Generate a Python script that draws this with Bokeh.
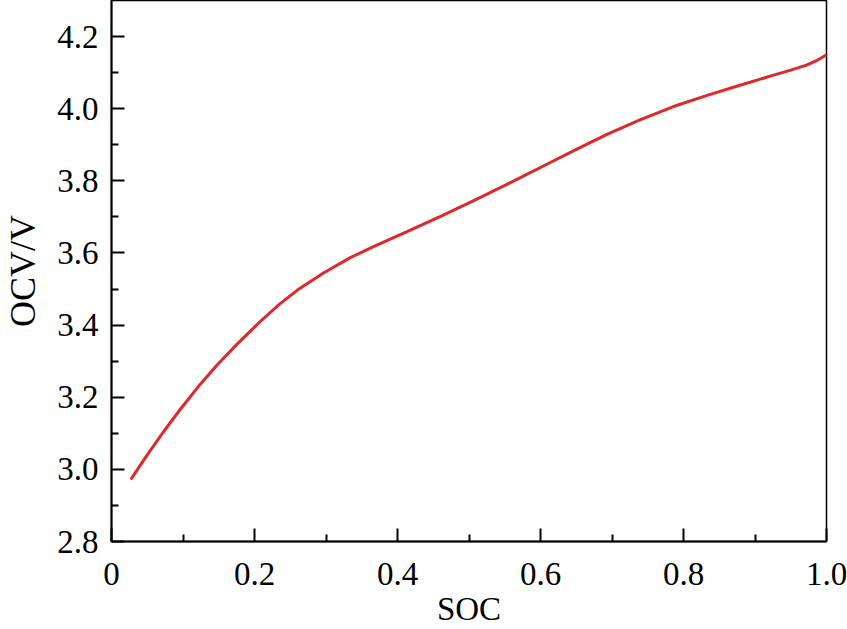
from bokeh.plotting import figure
from bokeh.models import FixedTicker, Range1d
from bokeh.embed import file_html
from bokeh.resources import INLINE

# Data
soc = [0.028, 0.050, 0.073, 0.096, 0.120, 0.148, 0.176, 0.208, 0.235, 0.260,
       0.297, 0.334, 0.371, 0.418, 0.464, 0.511, 0.558, 0.611, 0.646, 0.693,
       0.739, 0.786, 0.833, 0.879, 0.926, 0.950, 0.972, 0.986, 0.999]
ocv = [2.975, 3.040, 3.105, 3.166, 3.226, 3.290, 3.348, 3.410, 3.458, 3.497,
       3.545, 3.587, 3.622, 3.663, 3.705, 3.749, 3.795, 3.848, 3.883, 3.929,
       3.969, 4.006, 4.037, 4.065, 4.093, 4.107, 4.121, 4.133, 4.148]

x_ticks = [0, 0.2, 0.4, 0.6, 0.8, 1.0]
x_minor = [0.1, 0.3, 0.5, 0.7, 0.9]
y_ticks = [2.8, 3.0, 3.2, 3.4, 3.6, 3.8, 4.0, 4.2]
y_minor = [2.9, 3.1, 3.3, 3.5, 3.7, 3.9, 4.1]
x_labels = ["0", "0.2", "0.4", "0.6", "0.8", "1.0"]
y_labels = ["2.8", "3.0", "3.2", "3.4", "3.6", "3.8", "4.0", "4.2"]
x_title = "SOC"
y_title = "OCV/V"

FONT = "Liberation Serif"

p = figure(width=847, height=629, output_backend="svg", toolbar_location=None,
           x_range=Range1d(0, 1.0), y_range=Range1d(2.8, 4.3),
           min_border_left=111, min_border_right=21, min_border_top=0,
           min_border_bottom=88)

p.line(soc, ocv, line_color="#e0282a", line_width=3, line_join="round",
       line_cap="round")

p.grid.visible = False
p.outline_line_color = "black"
p.outline_line_width = 1.5
p.background_fill_color = "white"
p.border_fill_color = "white"

p.xaxis.ticker = FixedTicker(ticks=x_ticks, minor_ticks=x_minor)
p.yaxis.ticker = FixedTicker(ticks=y_ticks, minor_ticks=y_minor)
p.xaxis.major_label_overrides = {t: l for t, l in zip(x_ticks, x_labels)}
p.yaxis.major_label_overrides = {t: l for t, l in zip(y_ticks, y_labels)}

for ax in (p.xaxis[0], p.yaxis[0]):
    ax.axis_line_width = 2
    ax.axis_line_color = "black"
    ax.major_tick_in = 13
    ax.major_tick_out = 0
    ax.minor_tick_in = 7
    ax.minor_tick_out = 0
    ax.major_tick_line_width = 2
    ax.minor_tick_line_width = 2
    ax.major_tick_line_color = "black"
    ax.minor_tick_line_color = "black"
    ax.major_label_text_font = FONT
    ax.major_label_text_font_size = "33px"
    ax.major_label_text_color = "black"
    ax.axis_label_text_font = FONT
    ax.axis_label_text_font_style = "normal"
    ax.axis_label_text_color = "black"

p.xaxis.axis_label = x_title
p.yaxis.axis_label = y_title
p.xaxis.axis_label_text_font_size = "33px"
p.yaxis.axis_label_text_font_size = "36px"
p.xaxis.major_label_standoff = 21
p.yaxis.major_label_standoff = 13
p.xaxis.axis_label_standoff = 3
p.yaxis.axis_label_standoff = 11

open("out.html", "w").write(file_html(p, INLINE))
